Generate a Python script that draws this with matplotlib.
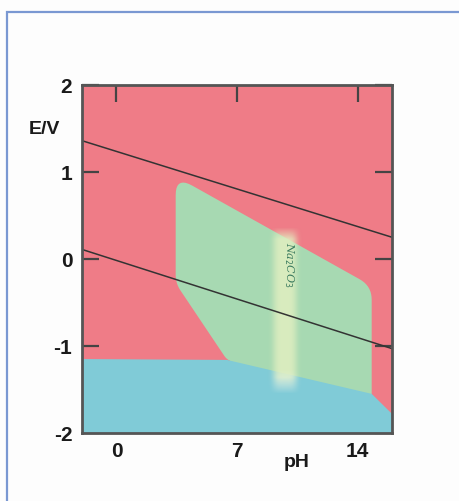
import numpy as np
import matplotlib.pyplot as plt
from matplotlib.patches import Polygon, Rectangle

# axis ranges and ticks
PH_TICKS = [0, 7, 14]
E_TICKS = [-2, -1, 0, 1, 2]
PH_LIM = (-2, 16)
E_LIM = (-2, 2)

# water stability lines (pH, E)
o2_line_ph = [-2, 16]
o2_line_e = [1.36, 0.25]
h2_line_ph = [-2, 16]
h2_line_e = [0.11, -1.03]

# green (passive) region outline
green_ph = [3.44, 14.82, 14.82, 6.42, 3.44]
green_e = [0.95, -0.31, -1.75, -1.16, -0.28]

# blue (immunity) region top boundary
blue_ph = [-2, 6.42, 14.82, 16.0]
blue_e = [-1.15, -1.16, -1.55, -1.78]

# Na2CO3 strip
strip_ph = (8.5, 11.0)
strip_e = (-1.55, 0.36)

RED = '#ef7c87'
GREEN = '#a7d9b2'
BLUE = '#80cbd7'

# E units are ~5 times taller than pH units on screen
ASPECT = 87 / 17.14


def rounded(xs, ys, radii, n=10):
    # round polygon corners (styling only)
    pts = np.column_stack([xs, np.array(ys) * ASPECT])
    out = []
    m = len(pts)
    for i in range(m):
        p0, p1, p2 = pts[i - 1], pts[i], pts[(i + 1) % m]
        d1 = (p0 - p1) / np.linalg.norm(p0 - p1)
        d2 = (p2 - p1) / np.linalg.norm(p2 - p1)
        a = p1 + d1 * radii[i]
        b = p1 + d2 * radii[i]
        for t in np.linspace(0, 1, n):
            out.append((1 - t) ** 2 * a + 2 * (1 - t) * t * p1 + t ** 2 * b)
    out = np.array(out)
    out[:, 1] /= ASPECT
    return out


fig = plt.figure(figsize=(4.59, 5.02), dpi=100)
fig.patch.set_facecolor('#fdfdfd')

# blue frame around the picture
fig.add_artist(Rectangle((7 / 459, -0.1), 1.2, 1 - 13 / 502 + 0.1, transform=fig.transFigure,
                         fill=False, edgecolor='#7a98d2', linewidth=1.6))

ax = fig.add_axes([82 / 459, 68 / 502, 310 / 459, 348 / 502])
ax.set_facecolor(RED)

# green region
ax.add_patch(Polygon(rounded(green_ph, green_e, [1.1, 0.8, 0.3, 0.3, 0.5]), closed=True,
                     facecolor=GREEN, edgecolor='none', zorder=1))

# blue region
bpts = np.column_stack([blue_ph + [16, -2], blue_e + [-2.1, -2.1]])
ax.add_patch(Polygon(bpts, closed=True, facecolor=BLUE, edgecolor='none', zorder=2))

# pale strip with soft edges
nx, ny = 80, 240
gx = np.linspace(-1, 1, nx)
gy = np.linspace(0, 1, ny)
x_prof = np.exp(-(gx / 0.55) ** 4)
top_fade = np.clip((1 - gy) / 0.07, 0, 1)
bot_fade = np.clip(gy / 0.1, 0, 1)
alpha = np.outer(top_fade * bot_fade, x_prof) * 0.85
rgba = np.zeros((ny, nx, 4))
rgba[..., 0] = 0.89
rgba[..., 1] = 0.94
rgba[..., 2] = 0.76
w = np.clip(1 - gy / 0.14, 0, 1)[:, None]
rgba[..., 0] += (0.97 - 0.89) * w
rgba[..., 1] += (0.97 - 0.94) * w
rgba[..., 2] += (0.94 - 0.76) * w
rgba[..., 3] = alpha
ax.imshow(rgba, extent=[strip_ph[0], strip_ph[1], strip_e[1], strip_e[0]],
          aspect='auto', interpolation='bilinear', zorder=3)
ax.text(10.0, -0.06, r'Na$_2$CO$_3$', rotation=-90, ha='center', va='center',
        family='DejaVu Serif', style='italic', fontsize=8, color='#3a7a5e', zorder=4)

# water lines
ax.plot(o2_line_ph, o2_line_e, color='#333333', linewidth=1.1, zorder=5)
ax.plot(h2_line_ph, h2_line_e, color='#333333', linewidth=1.1, zorder=5)

ax.set_xlim(*PH_LIM)
ax.set_ylim(*E_LIM)
ax.set_xticks(PH_TICKS)
ax.set_yticks(E_TICKS)
ax.set_xticklabels([str(t) for t in PH_TICKS])
ax.set_yticklabels([str(t) for t in E_TICKS])
ax.tick_params(direction='in', length=12, width=1.6, color='#444444',
               top=True, right=True, labelsize=15, labelcolor='#1a1a1a')
ax.tick_params(axis='y', pad=7)
ax.tick_params(axis='x', pad=6)
for lab in ax.get_xticklabels() + ax.get_yticklabels():
    lab.set_fontweight('bold')
    lab.set_family('Liberation Sans')
for s in ax.spines.values():
    s.set_color('#555555')
    s.set_linewidth(2.0)
    s.set_zorder(6)

fig.text(44 / 459, 1 - 130 / 502, 'E/V', ha='center', va='center', fontsize=14,
         fontweight='bold', family='Liberation Sans', color='#1a1a1a')
fig.text(297 / 459, 1 - 463 / 502, 'pH', ha='center', va='center', fontsize=14,
         fontweight='bold', family='Liberation Sans', color='#1a1a1a')

fig.savefig('out.png', dpi=100, facecolor=fig.get_facecolor())
